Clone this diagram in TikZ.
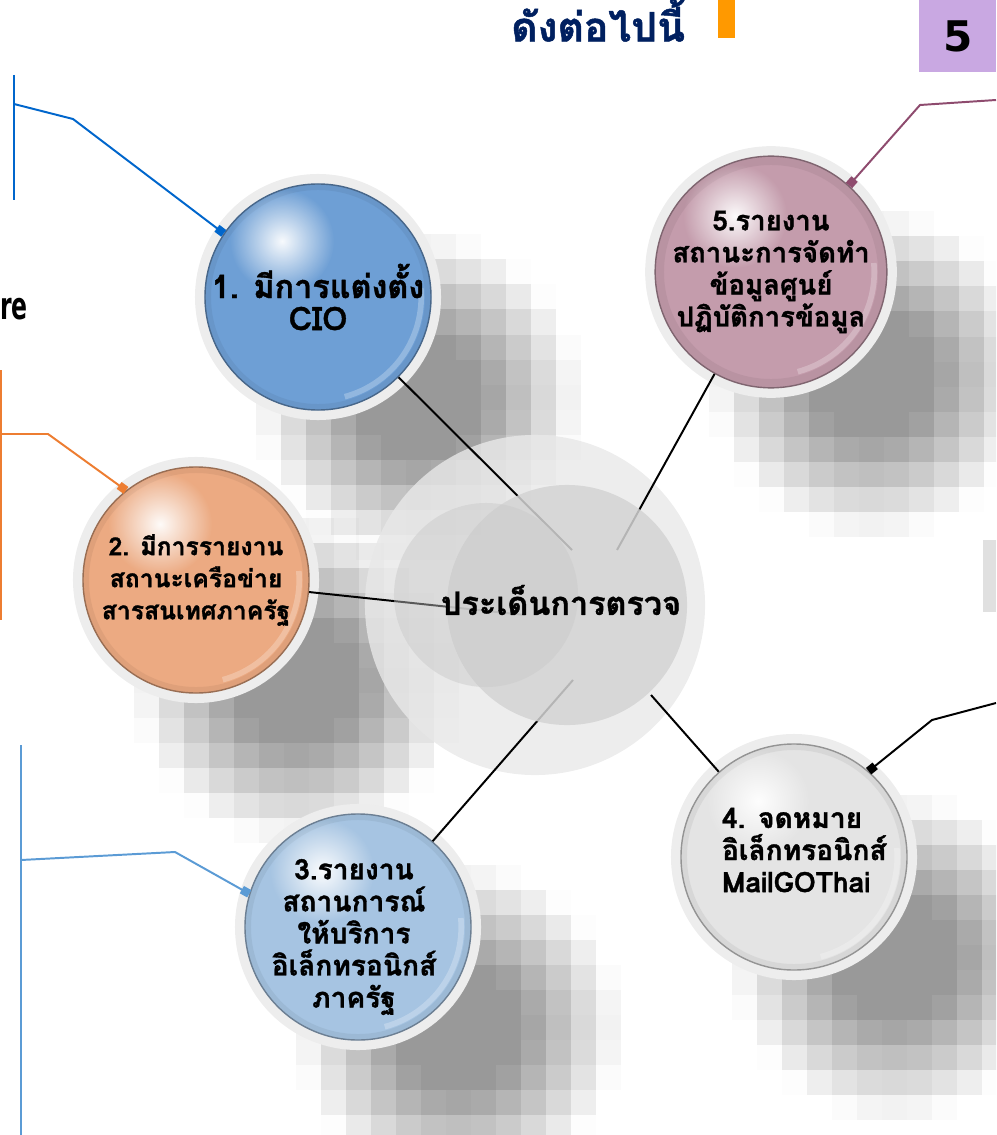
\documentclass[tikz,border=0pt]{standalone}
\usepackage{fontspec}
\newfontfamily\thai[Script=Thai, BoldFeatures={FakeBold=1.2}]{Loma}
\newfontfamily\dejavu{DejaVu Sans}
\usetikzlibrary{arrows.meta,fadings}

\definecolor{sphA}{HTML}{6E9FD5}
\definecolor{sphB}{HTML}{ECAA82}
\definecolor{sphC}{HTML}{A6C4E2}
\definecolor{sphD}{HTML}{E4E4E4}
\definecolor{sphE}{HTML}{C49CAC}
\definecolor{navy}{HTML}{002060}
\definecolor{barorange}{HTML}{FF9900}
\definecolor{pagelilac}{HTML}{C9A8E2}
\definecolor{callA}{HTML}{0066CC}
\definecolor{callB}{HTML}{ED7D31}
\definecolor{callC}{HTML}{5B9BD5}
\definecolor{callE}{HTML}{8E4B6E}

\tikzfading[name=glow, inner color=transparent!0, outer color=transparent!100]

% pixel shadow behind a sphere
\newcommand{\mosaic}[2]{%
  \foreach \i in {-6,...,6}{%
    \foreach \j in {-6,...,6}{%
      \pgfmathsetmacro{\mop}{0.40*min(1,max(0,(6.5-sqrt((\i)^2+(\j)^2))/4))}
      \fill[black, opacity=\mop] ({#1+25*\i-12.5},{#2+25*\j-12.5}) rectangle ++(25,25);
    }}}
% font size of the sphere texts
\newcommand{\bfthai}[1]{\thai\bfseries\fontsize{#1}{22.8}\selectfont}

\begin{document}
\begin{tikzpicture}[x=0.025cm, y=-0.025cm, line join=round,
    sphere/.style={circle, minimum size=5.65cm, inner sep=0pt, align=center,
        fill=#1, draw=#1!65!black, line width=1pt,
        preaction={draw=black!7, line width=0.5cm},
        path picture={
            \draw[#1!70!black, opacity=0.18, line width=0.25cm] (path picture bounding box.center) circle (2.8cm);
            \draw[white, opacity=0.25, line width=4pt] (path picture bounding box.center) ++(-75:2.58cm) arc (-75:5:2.58cm);
            \fill[white, opacity=0.95, path fading=glow] ([xshift=-0.9cm, yshift=1.4cm]path picture bounding box.center) circle (1.3cm);}},
    stext/.style={align=center, font=\bfthai{#1}},
    disc/.style={circle, inner sep=0pt, minimum size=#1, fill=black!17, opacity=0.85},
    spoke/.style={draw=black, line width=1.4pt},
    callout/.style={draw=#1, line width=1.4pt, -{Square[length=6pt, width=6pt]}},
    rail/.style={draw=#1, line width=1.4pt}]

    \clip (0,0) rectangle (996,1135);

    % Shadows
    \mosaic{418}{397}
    \mosaic{296}{680}
    \mosaic{458}{1027}
    \mosaic{894}{957}
    \mosaic{871}{374}

    % Header
    \node [anchor=east, text=navy, font=\thai\bfseries\fontsize{29}{33}\selectfont] (title) at (690,20) {ดังต่อไปนี้};
    \fill [barorange] (718,0) rectangle (735,38);
    \node [anchor=north west, fill=pagelilac, minimum width=1.925cm, minimum height=1.8cm, font=\dejavu\bfseries\fontsize{30}{34}\selectfont] (page) at (919,0) {5};
    \node [anchor=base west, inner sep=0pt, font=\dejavu\bfseries\fontsize{27}{30}\selectfont] (re) at (0,320) {\scalebox{0.62}[1]{re}};
    \fill [black!12] (983,540) rectangle (996,612);

    % Hub
    \node [disc=8.5cm, fill=black!9, opacity=0.8] (outer) at (535,605) {};
    \coordinate (h1) at (572,550);
    \coordinate (h5) at (617,550);
    \coordinate (h2) at (525,615);
    \coordinate (h3) at (573,680);
    \coordinate (h4) at (651,695);

    % Nodes
    \node [sphere=sphA, stext=23] (s1) at (318,297) {1. มีการแต่งตั้ง\\CIO};
    \node [sphere=sphB, stext=17.6] (s2) at (196,580) {2. มีการรายงาน\\สถานะเครือข่าย\\สารสนเทศภาครัฐ};
    \node [sphere=sphC] (s3) at (358,927) {};
    \node [sphere=sphD] (s4) at (794,857) {};
    \node [sphere=sphE, stext=19.6] (s5) at (771,272) {5.รายงาน\\สถานะการจัดทำ\\ข้อมูลศูนย์\\ปฏิบัติการข้อมูล};
    \node [stext=20] (t3) at (354,937) {3.รายงาน\\สถานการณ์\\ให้บริการ\\อิเล็กทรอนิกส์\\ภาครัฐ};
    \node [stext=20, align=left, anchor=west] (t4) at (717,850) {4. จดหมาย\\อิเล็กทรอนิกส์\\MailGOThai};

    % Paths
    \path [spoke] (s1) -- (h1);
    \path [spoke] (s5) -- (h5);
    \path [spoke] (s2) -- (h2);
    \path [spoke] (s3) -- (h3);
    \path [spoke] (s4) -- (h4);

    \node [disc=6cm] (mid) at (567,605) {};
    \node [disc=4.6cm, fill=black!22, opacity=0.45] (inner) at (486,595) {};
    \node [font=\bfthai{23}] (hub) at (561,600) {ประเด็นการตรวจ};

    % Callouts
    \coordinate (a0) at (14,75);   \coordinate (a1) at (14,200);
    \coordinate (a2) at (14,104);  \coordinate (a3) at (73,119);
    \coordinate (b0) at (1,370);   \coordinate (b1) at (1,620);
    \coordinate (b2) at (0,434);   \coordinate (b3) at (48,434);
    \coordinate (c0) at (21,745);  \coordinate (c1) at (21,1135);
    \coordinate (c2) at (21,860);  \coordinate (c3) at (175,852);
    \coordinate (d2) at (996,703); \coordinate (d3) at (932,720);
    \coordinate (e2) at (996,100); \coordinate (e3) at (920,105);

    \path [rail=callA] (a0) -- (a1);
    \path [callout=callA] (a2) -- (a3) -- (s1.146);
    \path [rail=callB] (b0) -- (b1);
    \path [callout=callB] (b2) -- (b3) -- (s2.128);
    \path [rail=callC] (c0) -- (c1);
    \path [callout=callC] (c2) -- (c3) -- (s3.163);
    \path [callout=black] (d2) -- (d3) -- (s4.49);
    \path [callout=callE] (e2) -- (e3) -- (s5.48);

\end{tikzpicture}
\end{document}
